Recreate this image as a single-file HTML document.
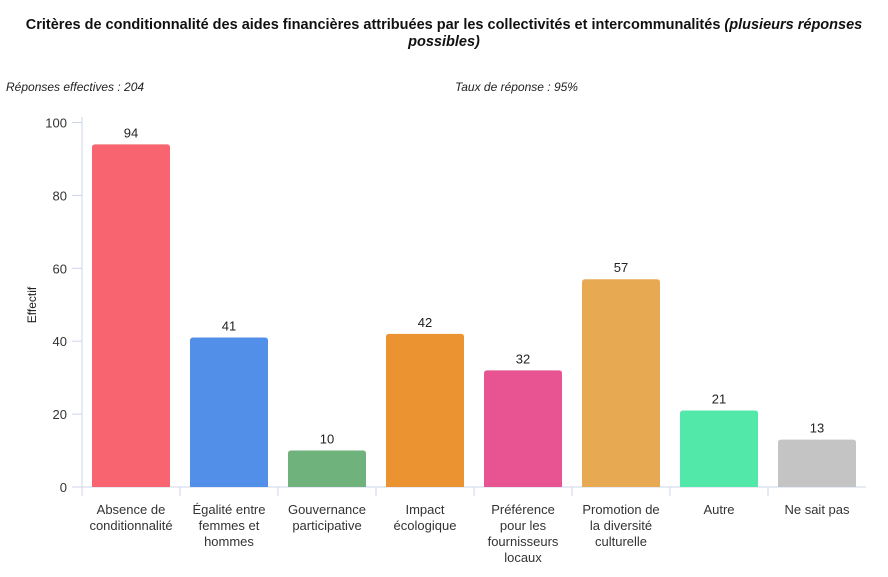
<!DOCTYPE html>
<html><head><meta charset="utf-8"><style>
body{margin:0;background:#fff;font-family:"Liberation Sans",sans-serif;}
svg{display:block}
</style></head><body>
<svg id="chart" width="888" height="577" font-family="Liberation Sans, sans-serif">
<text x="444" y="29" text-anchor="middle" font-size="14.5" font-weight="bold" fill="#111">Critères de conditionnalité des aides financières attribuées par les collectivités et intercommunalités <tspan font-style="italic">(plusieurs réponses</tspan></text>
<text x="444" y="46" text-anchor="middle" font-size="14.5" font-weight="bold" font-style="italic" fill="#111">possibles)</text>
<text x="6" y="91" font-size="12" font-style="italic" fill="#222">Réponses effectives : 204</text>
<text x="455" y="91" font-size="12" font-style="italic" fill="#222">Taux de réponse : 95%</text>
<text transform="translate(36,305) rotate(-90)" text-anchor="middle" font-size="12" fill="#222">Effectif</text>
<g id="g"></g>
</svg>
<script>
const categories=[["Absence de","conditionnalité"],["Égalité entre","femmes et","hommes"],["Gouvernance","participative"],["Impact","écologique"],["Préférence","pour les","fournisseurs","locaux"],["Promotion de","la diversité","culturelle"],["Autre"],["Ne sait pas"]];
const values=[94,41,10,42,32,57,21,13];
const colors=["#f8646f","#528fe8","#6fb27b","#ec9331","#e85391","#e7aa53","#52e8a9","#c4c4c4"];
const yTicks=[0,20,40,60,80,100];
const NS="http://www.w3.org/2000/svg";
const g=document.getElementById('g');
const x0=82,bw=98,y0=487,yTop=122.5;
const y=v=>y0-(v/100)*(y0-yTop);
function mk(t,a,p){const e=document.createElementNS(NS,t);for(const k in a)e.setAttribute(k,a[k]);(p||g).appendChild(e);return e;}
yTicks.forEach(t=>{
 const l=mk('line',{x1:72,x2:82,y1:y(t),y2:y(t),stroke:'#ccd6eb'});
 
 
 const tx=mk('text',{x:67,y:y(t)+5,'text-anchor':'end','font-size':13,fill:'#333'});tx.textContent=t;
 
 
});
const ax=mk('line',{x1:82,x2:82,y1:117,y2:496,stroke:'#ccd6eb'});


const xa=mk('line',{x1:82,x2:82+bw*categories.length,y1:y0,y2:y0,stroke:'#ccd6eb'});


categories.forEach((c,i)=>{
 const bx=x0+i*bw, cx=bx+bw/2;
 if(i>0){const t=mk('line',{x1:bx,x2:bx,y1:y0,y2:496,stroke:'#ccd6eb'});
 
 }
 const r=mk('path',{d:`M${bx+10} ${y0} V${y(values[i])+3} q0 -3 3 -3 H${bx+bw-13} q3 0 3 3 V${y0} Z`,fill:colors[i]});
 
 
 const v=mk('text',{x:cx,y:y(values[i])-7,'text-anchor':'middle','font-size':13,fill:'#222'});v.textContent=values[i];
 
 
 const lt=mk('text',{'text-anchor':'middle','font-size':13,fill:'#333'});
 
 
 c.forEach((s,j)=>{const ts=mk('tspan',{x:cx,y:514+j*16},lt);ts.textContent=s;});
});
</script>
</body></html>
